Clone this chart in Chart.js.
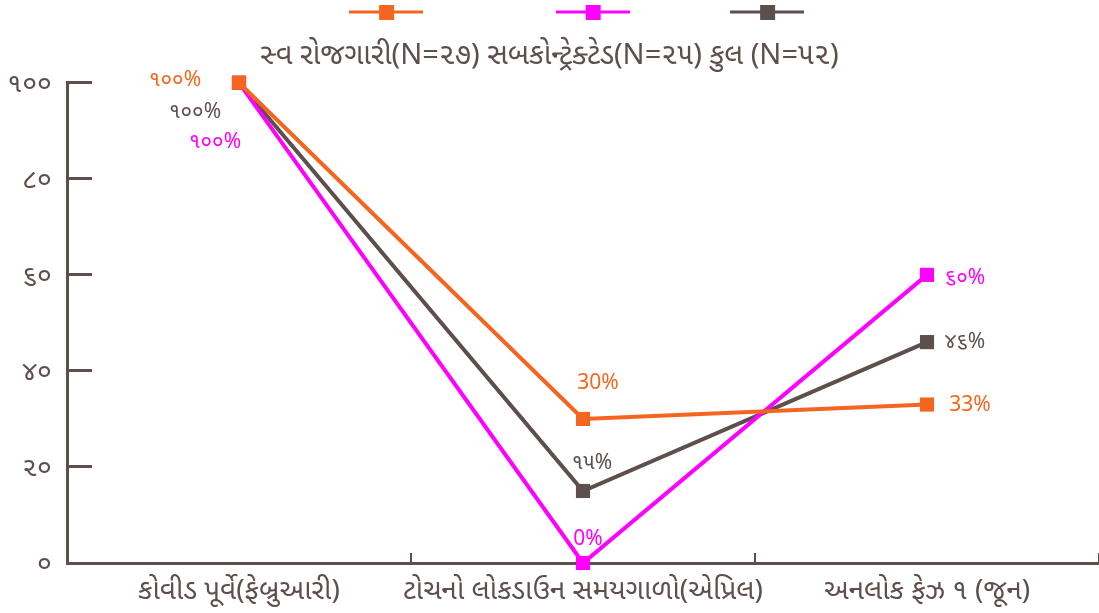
<!DOCTYPE html>
<html>
<head>
<meta charset="utf-8">
<script src="https://cdn.jsdelivr.net/npm/chart.js@4/dist/chart.umd.min.js"></script>
<style>
  html, body { margin: 0; padding: 0; background: #fff; }
  #wrap { width: 1099px; height: 613px; }
</style>
</head>
<body>
<div id="wrap"><canvas id="chart"></canvas></div>
<script>
// categories and series
const categories = ["કોવીડ પૂર્વે(ફેબ્રુઆરી)", "ટોચનો લોકડાઉન સમયગાળો(એપ્રિલ)", "અનલોક ફેઝ ૧ (જૂન)"];
const seriesNames = ["સ્વ રોજગારી(N=૨૭)", "સબકોન્ટ્રેક્ટેડ(N=૨૫)", "કુલ (N=૫૨)"];
const selfEmployed = [100, 30, 33];
const subcontracted = [100, 0, 60];
const total = [100, 15, 46];
// value labels as printed on the chart
const selfEmployedLabels = ["૧૦૦%", "30%", "33%"];
const subcontractedLabels = ["૧૦૦%", "0%", "૬૦%"];
const totalLabels = ["૧૦૦%", "૧૫%", "૪૬%"];
const yTickLabels = { 0: "૦", 20: "૨૦", 40: "૪૦", 60: "૬૦", 80: "૮૦", 100: "૧૦૦" };

const FONT = "'Noto Sans Gujarati', Lato, 'Noto Sans', sans-serif";
const AXIS = "#5d4f4b";
const colors = ["#f4661f", "#ff00ff", "#5d4f4b"];

// label offsets (px) relative to each point
const labelOffsets = [
  [[-64, -1], [15, -34], [43, 3]],
  [[-24, 61], [5, -22], [38, 5]],
  [[-44, 31], [9, -26], [38, 2]]
];

function legendMarker(color) {
  const c = document.createElement("canvas");
  c.width = 74; c.height = 16;
  const g = c.getContext("2d");
  if (color) {
    g.strokeStyle = color; g.lineWidth = 3;
    g.beginPath(); g.moveTo(0, 8); g.lineTo(74, 8); g.stroke();
    g.fillStyle = color; g.fillRect(30, 1, 15, 15);
  }
  return c;
}

// invisible filler text of roughly px width (legend spacing only)
function filler(ctx, px) {
  ctx.save();
  ctx.font = "10px " + FONT;
  let s = "";
  while (ctx.measureText(s + ".").width <= px) s += ".";
  ctx.restore();
  return s;
}

const valueLabels = {
  id: "valueLabels",
  afterDatasetsDraw(chart) {
    const ctx = chart.ctx;
    ctx.save();
    ctx.font = "21px " + FONT;
    ctx.textAlign = "center";
    ctx.textBaseline = "middle";
    chart.data.datasets.forEach((ds, i) => {
      chart.getDatasetMeta(i).data.forEach((pt, j) => {
        const off = labelOffsets[i][j];
        ctx.fillStyle = ds.borderColor;
        ctx.fillText(ds.valueText[j], pt.x + off[0], pt.y + off[1]);
      });
    });
    ctx.restore();
  }
};

const seriesValues = [selfEmployed, subcontracted, total];
const seriesLabels = [selfEmployedLabels, subcontractedLabels, totalLabels];
const legendGaps = [0, 121, 89, 28];

new Chart(document.getElementById("chart"), {
  type: "line",
  data: {
    labels: categories,
    datasets: seriesValues.map((vals, i) => ({
      label: seriesNames[i],
      data: vals,
      valueText: seriesLabels[i],
      borderColor: colors[i],
      backgroundColor: colors[i],
      borderWidth: 4,
      pointStyle: "rect",
      pointRadius: 10,
      pointHoverRadius: 10,
      pointBorderWidth: 0,
      tension: 0,
      clip: false
    }))
  },
  options: {
    responsive: true,
    maintainAspectRatio: false,
    animation: false,
    layout: { padding: 0, autoPadding: false },
    plugins: {
      legend: {
        position: "top",
        weight: 3000,
        labels: {
          usePointStyle: true,
          pointStyleWidth: 74,
          padding: 7,
          font: { size: 10, family: FONT },
          generateLabels(chart) {
            const items = [{ text: "", pointStyle: legendMarker(null), fontColor: "rgba(0,0,0,0)", hidden: false }];
            chart.data.datasets.forEach((ds, i) => items.push({
              text: filler(chart.ctx, legendGaps[i + 1]),
              fontColor: "rgba(0,0,0,0)",
              pointStyle: legendMarker(ds.borderColor),
              datasetIndex: i,
              hidden: false
            }));
            return items;
          }
        }
      },
      title: {
        display: true,
        text: seriesNames.join(" "),
        color: AXIS,
        font: { size: 29, family: FONT, weight: "normal" },
        padding: { top: 14, bottom: 7 }
      },
      tooltip: { enabled: false }
    },
    scales: {
      x: {
        offset: true,
        grid: { offset: true, drawOnChartArea: false, tickLength: -10, color: AXIS, lineWidth: 2 },
        border: { color: AXIS, width: 3 },
        ticks: { color: AXIS, font: { size: 28, family: FONT }, padding: 24, maxRotation: 0, autoSkip: false },
        afterFit(scale) { scale.height = 50; scale.paddingLeft = 0; scale.paddingRight = 0; }
      },
      y: {
        min: 0, max: 100,
        grid: { drawOnChartArea: false, tickLength: -25, color: AXIS, lineWidth: 3 },
        border: { color: AXIS, width: 3 },
        ticks: {
          stepSize: 20,
          color: AXIS,
          font: { size: 27, family: FONT },
          padding: 40,
          labelOffset: 4,
          callback: v => yTickLabels[v]
        },
        afterFit(scale) { scale.width = 67; scale.paddingTop = 0; scale.paddingBottom = 0; }
      }
    }
  },
  plugins: [valueLabels]
});
</script>
</body>
</html>
